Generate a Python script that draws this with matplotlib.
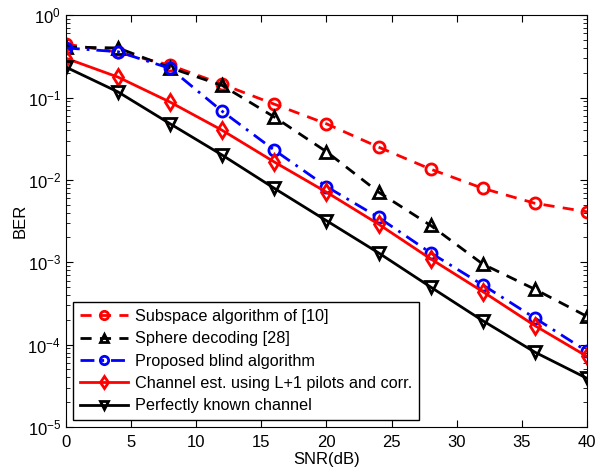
import numpy as np
import matplotlib
matplotlib.use("Agg")
import matplotlib.pyplot as plt

plt.rcParams['font.family'] = ['Liberation Sans', 'DejaVu Sans']
plt.rcParams['mathtext.fontset'] = 'custom'
plt.rcParams['mathtext.rm'] = 'Liberation Sans'
plt.rcParams['mathtext.it'] = 'Liberation Sans'
plt.rcParams['mathtext.default'] = 'regular'

snr = [0, 4, 8, 12, 16, 20, 24, 28, 32, 36, 40]

ber_subspace = [0.445, 0.356, 0.247, 0.145, 0.083, 0.048, 0.025, 0.0135, 0.0079, 0.0052, 0.0041]
ber_sphere = [0.41, 0.40, 0.23, 0.14, 0.058, 0.022, 0.0071, 0.0028, 0.00095, 0.00047, 0.00022]
ber_blind = [0.40, 0.36, 0.226, 0.068, 0.023, 0.0083, 0.0035, 0.0013, 0.00053, 0.00021, 8.3e-5]
ber_pilots = [0.30, 0.177, 0.088, 0.040, 0.0165, 0.0071, 0.0029, 0.0011, 0.00044, 0.00017, 7.2e-5]
ber_known = [0.234, 0.117, 0.048, 0.020, 0.0079, 0.0032, 0.0013, 0.0005, 0.000195, 8.1e-5, 3.9e-5]

labels = ["Subspace algorithm of [10]",
          "Sphere decoding [28]",
          "Proposed blind algorithm",
          "Channel est. using L+1 pilots and corr.",
          "Perfectly known channel"]

fig = plt.figure(figsize=(5.99, 4.68), dpi=100)
ax = fig.add_axes([0.110, 0.0876, 0.870, 0.880])

ms = 8
mew = 2
lw = 2
ax.semilogy(snr, ber_subspace, color='red', linestyle=(0, (4, 3)), marker='o', ms=ms, mew=mew,
            mfc='none', lw=lw, label=labels[0])
ax.semilogy(snr, ber_sphere, color='black', linestyle=(0, (4, 3)), marker='^', ms=ms, mew=mew,
            mfc='none', lw=lw, label=labels[1])
ax.semilogy(snr, ber_blind, color='blue', linestyle=(0, (5, 2.5, 1, 2.5)), marker='o', ms=ms, mew=mew,
            mfc='none', lw=lw, label=labels[2])
ax.semilogy(snr, ber_pilots, color='red', linestyle='-', marker='d', ms=ms, mew=mew,
            mfc='none', lw=lw, label=labels[3])
ax.semilogy(snr, ber_known, color='black', linestyle='-', marker='v', ms=ms, mew=mew,
            mfc='none', lw=lw, label=labels[4])

ax.set_xlim(0, 40)
ax.set_ylim(1e-5, 1)
ax.set_xticks([0, 5, 10, 15, 20, 25, 30, 35, 40])
ax.tick_params(which='both', direction='in', top=True, right=True, labelsize=12)
ax.tick_params(axis='x', pad=6)
ax.tick_params(which='major', length=5)
ax.tick_params(which='minor', length=3)
ax.set_xlabel("SNR(dB)", fontsize=12, labelpad=1)
ax.set_ylabel("BER", fontsize=12, labelpad=0)

leg = ax.legend(loc='lower left', fontsize=11.7, handlelength=3.0, labelspacing=0.45,
                borderpad=0.4, handletextpad=0.4, borderaxespad=0.45, fancybox=False,
                framealpha=1, edgecolor='black')
leg.get_frame().set_linewidth(1)
for h in leg.legend_handles:
    h.set_markersize(6)

fig.savefig("out.png", dpi=100)
